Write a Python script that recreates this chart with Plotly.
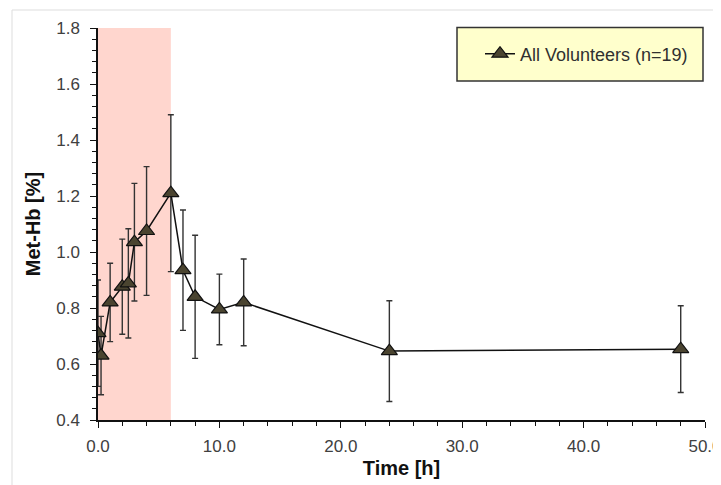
import plotly.graph_objects as go

# Data
time_h = [0, 0.25, 1, 2, 2.5, 3, 4, 6, 7, 8, 10, 12, 24, 48]
methb = [0.71, 0.63, 0.82, 0.876, 0.888, 1.035, 1.075, 1.21, 0.935, 0.84, 0.795, 0.82, 0.646, 0.653]
sd = [0.19, 0.14, 0.14, 0.17, 0.195, 0.21, 0.23, 0.28, 0.215, 0.22, 0.126, 0.155, 0.18, 0.155]
series_name = "All Volunteers (n=19)"
exposure_window = [0, 6]
x_ticks = [0, 10, 20, 30, 40, 50]
y_ticks = [0.4, 0.6, 0.8, 1.0, 1.2, 1.4, 1.6, 1.8]

FONT = "Liberation Sans, Arial, sans-serif"

# plot area in page pixels (page has an 8px body margin)
PL, PR, PT, PB = 98, 705, 28, 420
PW, PH = PR - PL, PB - PT


def px(x):
    return (x - PL) / PW


def py(y):
    return (PB - y) / PH


fig = go.Figure()
fig.add_trace(go.Scatter(
    x=time_h, y=methb, name=series_name, mode="lines+markers",
    line=dict(color="#111111", width=1.5),
    marker=dict(symbol="triangle-up", size=14, color="#4A4430",
                line=dict(color="#111111", width=1.2)),
    error_y=dict(type="data", array=sd, visible=True, color="#333333",
                 thickness=1.4, width=3),
    showlegend=True,
))

# Shaded exposure window
fig.add_shape(type="rect", xref="x", yref="y",
              x0=exposure_window[0], x1=exposure_window[1], y0=0.4, y1=1.8,
              fillcolor="#FFD6CE", line=dict(width=0), layer="below")

# Outer light frame
fig.add_shape(type="rect", xref="paper", yref="paper",
              x0=px(12), x1=px(760), y0=py(520), y1=py(10),
              line=dict(color="#DDDDDD", width=1), fillcolor="rgba(0,0,0,0)",
              layer="below")

# Legend box
fig.add_shape(type="rect", xref="paper", yref="paper",
              x0=px(457), x1=px(703), y0=py(81), y1=py(27.5),
              fillcolor="#FFFFCC", line=dict(color="#333333", width=1.5),
              layer="above")

fig.update_layout(
    width=713, height=477,
    margin=dict(l=PL - 8, r=713 - (PR - 8), t=PT - 8, b=477 - (PB - 8), autoexpand=False),
    paper_bgcolor="white", plot_bgcolor="white",
    font=dict(family=FONT, size=17, color="#404040"),
    legend=dict(x=px(480), y=py(54), xanchor="left", yanchor="middle",
                bgcolor="rgba(0,0,0,0)", borderwidth=0,
                font=dict(family=FONT, size=18, color="#303030")),
    xaxis=dict(range=[0, 50], tickvals=x_ticks, tickformat=".1f", automargin=False,
               showgrid=False, zeroline=False, showline=True, linecolor="#111111", linewidth=1.5,
               ticks="outside", ticklen=6, tickcolor="#111111", tickwidth=1.2,
               ticklabelstandoff=4, ticklabeloverflow="allow",
               minor=dict(dtick=2, ticks="outside", ticklen=4, tickcolor="#111111", tickwidth=1),
               title=dict(text="<b>Time [h]</b>", font=dict(family=FONT, size=20, color="#111111"),
                          standoff=6)),
    yaxis=dict(range=[0.4, 1.8], tickvals=y_ticks, tickformat=".1f", automargin=False,
               showgrid=False, zeroline=False, showline=True, linecolor="#111111", linewidth=1.5,
               ticks="outside", ticklen=6, tickcolor="#111111", tickwidth=1.2,
               ticklabelstandoff=7,
               minor=dict(dtick=0.04, ticks="outside", ticklen=4, tickcolor="#111111", tickwidth=1),
               title=dict(text="<b>Met-Hb [%]</b>", font=dict(family=FONT, size=20, color="#111111"),
                          standoff=10)),
)

fig.write_html("out.html")
